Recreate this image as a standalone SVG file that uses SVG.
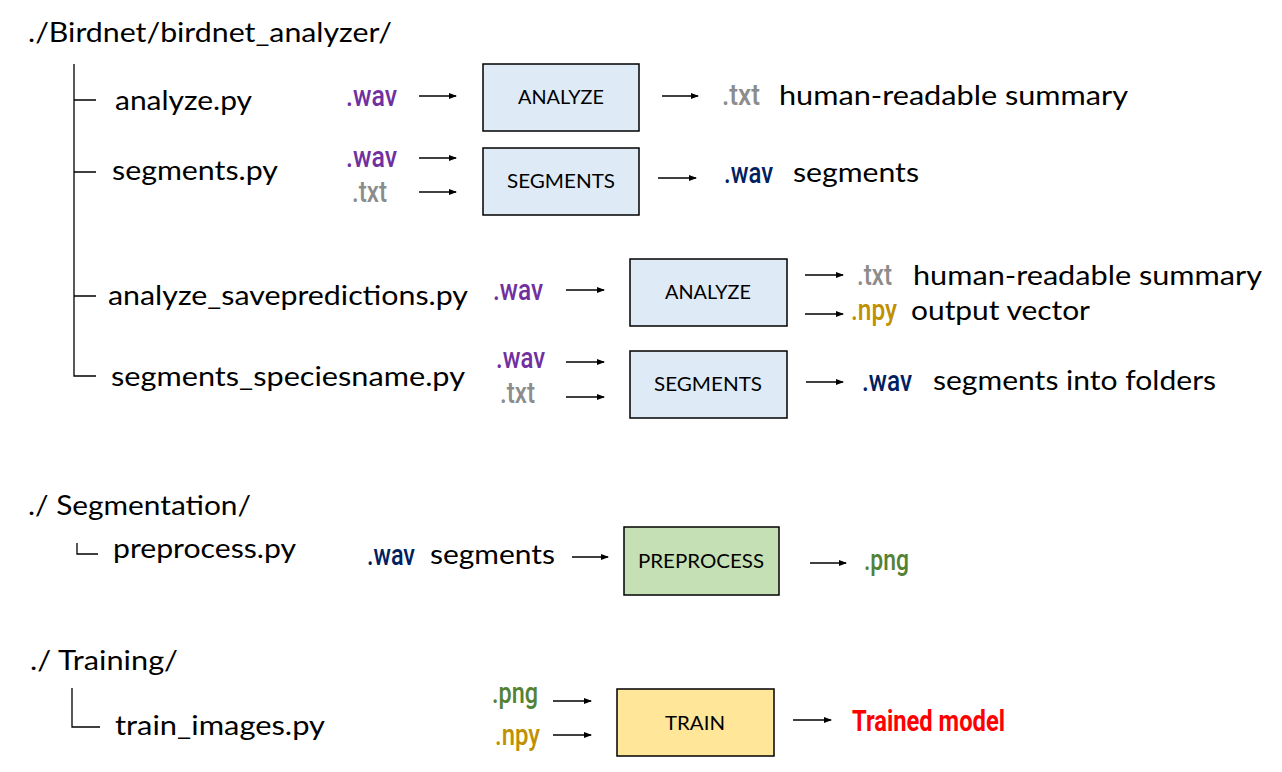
<svg xmlns="http://www.w3.org/2000/svg" width="1282" height="772" viewBox="0 0 1282 772">
<style>
.lbl{font-family:Lato,"Open Sans","Liberation Sans",sans-serif;font-size:26px;fill:#000}
.ext{font-family:Roboto,"Liberation Sans",sans-serif;font-size:29px;font-weight:500}
.box{stroke:#000;stroke-width:1.5}
.bt{font-family:Lato,"Open Sans","Liberation Sans",sans-serif;font-size:19px;fill:#000;text-anchor:middle}
.tree{stroke:#000;stroke-width:1.3;fill:none}
.arr{stroke:#000;stroke-width:1.3;fill:none;marker-end:url(#ah)}
.pur{fill:#7030A0}.gry{fill:#8C8C8C}.nav{fill:#002060}.gold{fill:#BF9000}.grn{fill:#548235}
</style>
<defs>
<marker id="ah" markerWidth="8" markerHeight="6" refX="7" refY="3" orient="auto" markerUnits="userSpaceOnUse">
<path d="M0,0 L8,3 L0,6 Z" fill="#000"/>
</marker>
</defs>
<rect width="1282" height="772" fill="#fff"/>

<g id="tree">
<text class="lbl" x="28" y="42" textLength="364" lengthAdjust="spacingAndGlyphs">./Birdnet/birdnet_analyzer/</text>
<path class="tree" d="M74,64 V376 H96 M74,100 H96 M74,172 H96 M74,296 H96"/>
<text class="lbl" x="115" y="110" textLength="137" lengthAdjust="spacingAndGlyphs">analyze.py</text>
<text class="lbl" x="112" y="180" textLength="166" lengthAdjust="spacingAndGlyphs">segments.py</text>
<text class="lbl" x="108" y="305" textLength="360" lengthAdjust="spacingAndGlyphs">analyze_savepredictions.py</text>
<text class="lbl" x="111" y="386" textLength="354" lengthAdjust="spacingAndGlyphs">segments_speciesname.py</text>
<text class="lbl" x="28" y="515" textLength="223" lengthAdjust="spacingAndGlyphs">./ Segmentation/</text>
<path class="tree" d="M77,543 V554 H98"/>
<text class="lbl" x="113" y="558" textLength="183" lengthAdjust="spacingAndGlyphs">preprocess.py</text>
<text class="lbl" x="30" y="670" textLength="148" lengthAdjust="spacingAndGlyphs">./ Training/</text>
<path class="tree" d="M72,688 V727 H100"/>
<text class="lbl" x="115" y="735" textLength="210" lengthAdjust="spacingAndGlyphs">train_images.py</text>
</g>

<g id="analyze1">
<rect class="box" x="483" y="64" width="156" height="67" fill="#DEEBF7"/>
<text class="bt" x="561" y="104" textLength="86" lengthAdjust="spacingAndGlyphs">ANALYZE</text>
</g>
<g id="segments1">
<rect class="box" x="483" y="148" width="156" height="67" fill="#DEEBF7"/>
<text class="bt" x="561" y="188" textLength="108" lengthAdjust="spacingAndGlyphs">SEGMENTS</text>
</g>
<g id="analyze2">
<rect class="box" x="630" y="259" width="157" height="67" fill="#DEEBF7"/>
<text class="bt" x="708" y="299" textLength="86" lengthAdjust="spacingAndGlyphs">ANALYZE</text>
</g>
<g id="segments2">
<rect class="box" x="630" y="351" width="157" height="67" fill="#DEEBF7"/>
<text class="bt" x="708" y="391" textLength="108" lengthAdjust="spacingAndGlyphs">SEGMENTS</text>
</g>
<g id="preprocess">
<rect class="box" x="624" y="527" width="155" height="68" fill="#C5E0B4"/>
<text class="bt" x="701" y="568" textLength="126" lengthAdjust="spacingAndGlyphs">PREPROCESS</text>
</g>
<g id="train">
<rect class="box" x="617" y="689" width="157" height="67" fill="#FFE699"/>
<text class="bt" x="695" y="730" textLength="60" lengthAdjust="spacingAndGlyphs">TRAIN</text>
</g>

<g id="labels">
<text class="ext pur" x="346" y="106" textLength="51" lengthAdjust="spacingAndGlyphs">.wav</text>
<text class="ext gry" x="722" y="105" textLength="38" lengthAdjust="spacingAndGlyphs">.txt</text>
<text class="lbl" x="779" y="105" textLength="349" lengthAdjust="spacingAndGlyphs">human-readable summary</text>

<text class="ext pur" x="346" y="167" textLength="51" lengthAdjust="spacingAndGlyphs">.wav</text>
<text class="ext gry" x="352" y="202" textLength="35" lengthAdjust="spacingAndGlyphs">.txt</text>
<text class="ext nav" x="724" y="183" textLength="49" lengthAdjust="spacingAndGlyphs">.wav</text>
<text class="lbl" x="793" y="182" textLength="126" lengthAdjust="spacingAndGlyphs">segments</text>

<text class="ext pur" x="493" y="300" textLength="50" lengthAdjust="spacingAndGlyphs">.wav</text>
<text class="ext gry" x="857" y="285" textLength="35" lengthAdjust="spacingAndGlyphs">.txt</text>
<text class="lbl" x="913" y="285" textLength="349" lengthAdjust="spacingAndGlyphs">human-readable summary</text>
<text class="ext gold" x="851" y="320" textLength="46" lengthAdjust="spacingAndGlyphs">.npy</text>
<text class="lbl" x="911" y="320" textLength="179" lengthAdjust="spacingAndGlyphs">output vector</text>

<text class="ext pur" x="496" y="368" textLength="49" lengthAdjust="spacingAndGlyphs">.wav</text>
<text class="ext gry" x="500" y="403" textLength="35" lengthAdjust="spacingAndGlyphs">.txt</text>
<text class="ext nav" x="862" y="391" textLength="50" lengthAdjust="spacingAndGlyphs">.wav</text>
<text class="lbl" x="933" y="390" textLength="283" lengthAdjust="spacingAndGlyphs">segments into folders</text>

<text class="ext nav" x="367" y="565" textLength="48" lengthAdjust="spacingAndGlyphs">.wav</text>
<text class="lbl" x="430" y="564" textLength="125" lengthAdjust="spacingAndGlyphs">segments</text>
<text class="ext grn" x="864" y="570" textLength="45" lengthAdjust="spacingAndGlyphs">.png</text>

<text class="ext grn" x="492" y="703" textLength="46" lengthAdjust="spacingAndGlyphs">.png</text>
<text class="ext gold" x="495" y="745" textLength="45" lengthAdjust="spacingAndGlyphs">.npy</text>
<text x="852" y="731" textLength="153" lengthAdjust="spacingAndGlyphs" style="font-family:Roboto,'Liberation Sans',sans-serif;font-size:30px;font-weight:bold;fill:#FF0000">Trained model</text>
</g>

<g id="connectors">
<line class="arr" x1="419" y1="96" x2="456" y2="96"/>
<line class="arr" x1="662" y1="96" x2="698" y2="96"/>
<line class="arr" x1="419" y1="158" x2="456" y2="158"/>
<line class="arr" x1="419" y1="192" x2="456" y2="192"/>
<line class="arr" x1="658" y1="178" x2="696" y2="178"/>
<line class="arr" x1="566" y1="290" x2="604" y2="290"/>
<line class="arr" x1="805" y1="275" x2="843" y2="275"/>
<line class="arr" x1="805" y1="314" x2="843" y2="314"/>
<line class="arr" x1="566" y1="362" x2="604" y2="362"/>
<line class="arr" x1="566" y1="397" x2="604" y2="397"/>
<line class="arr" x1="806" y1="382" x2="843" y2="382"/>
<line class="arr" x1="572" y1="557" x2="608" y2="557"/>
<line class="arr" x1="810" y1="563" x2="846" y2="563"/>
<line class="arr" x1="553" y1="701" x2="591" y2="701"/>
<line class="arr" x1="553" y1="735" x2="591" y2="735"/>
<line class="arr" x1="793" y1="720" x2="831" y2="720"/>
</g>
</svg>
